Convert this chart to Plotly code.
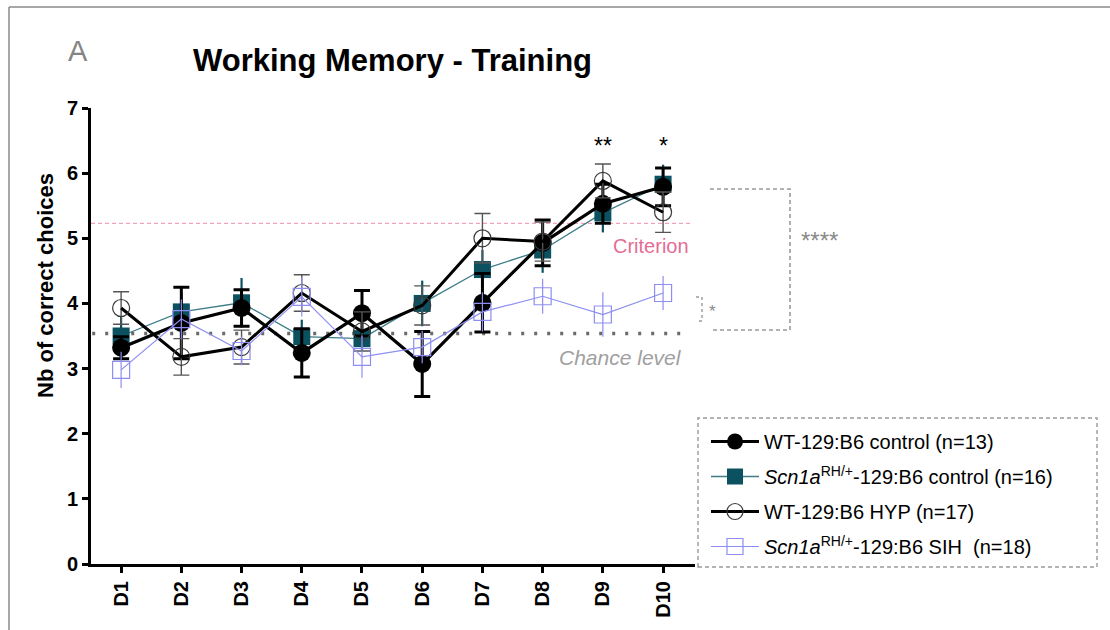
import plotly.graph_objects as go

# Training days
days = ["D1", "D2", "D3", "D4", "D5", "D6", "D7", "D8", "D9", "D10"]
day_idx = list(range(1, 11))

# Mean number of correct choices and SEM for each group
wt_ctrl_mean = [3.32, 3.70, 3.93, 3.24, 3.85, 3.07, 4.01, 4.93, 5.53, 5.79]
wt_ctrl_sem = [0.17, 0.55, 0.28, 0.37, 0.35, 0.50, 0.45, 0.35, 0.30, 0.29]

scn_ctrl_mean = [3.50, 3.87, 4.01, 3.49, 3.46, 4.00, 4.52, 4.82, 5.39, 5.83]
scn_ctrl_sem = [0.30, 0.30, 0.38, 0.26, 0.20, 0.35, 0.30, 0.35, 0.30, 0.30]

wt_hyp_mean = [3.93, 3.18, 3.33, 4.16, 3.57, 3.97, 5.00, 4.95, 5.88, 5.40]
wt_hyp_sem = [0.25, 0.28, 0.26, 0.28, 0.30, 0.30, 0.38, 0.30, 0.26, 0.31]

scn_sih_mean = [2.98, 3.76, 3.27, 4.10, 3.18, 3.33, 3.87, 4.11, 3.83, 4.16]
scn_sih_sem = [0.28, 0.30, 0.22, 0.30, 0.32, 0.25, 0.30, 0.27, 0.34, 0.26]

group_names = [
    "WT-129:B6 control (n=13)",
    "<i>Scn1a</i><sup>RH/+</sup>-129:B6 control (n=16)",
    "WT-129:B6 HYP (n=17)",
    "<i>Scn1a</i><sup>RH/+</sup>-129:B6 SIH&nbsp;&nbsp;(n=18)",
]

criterion_level = 5.23
chance_level = 3.54

sig_days = [9, 10]
sig_labels = ["**", "*"]

# Layout geometry (pixels)
W, H = 1110, 630
L, R, T, B = 91, 695, 108, 564


def px_x(p):
    return (p - L) / (R - L)


def px_y(p):
    return (B - p) / (B - T)


FONT = "Liberation Sans, Arial, sans-serif"

fig = go.Figure()

TEAL = "#0C5160"
LAV = "#8E8EF2"

fig.add_trace(go.Scatter(
    x=day_idx, y=scn_ctrl_mean, name=group_names[1], legendrank=2,
    legendgroup="g2", mode="lines+markers",
    line=dict(color="#3D7C88", width=1.3),
    marker=dict(symbol="square", size=17, color=TEAL),
    error_y=dict(type="data", array=scn_ctrl_sem, color=TEAL, thickness=2.2, width=0),
))
fig.add_trace(go.Scatter(
    x=day_idx, y=wt_ctrl_mean, name=group_names[0], legendrank=1,
    legendgroup="g1", mode="lines+markers",
    line=dict(color="black", width=3.2),
    marker=dict(symbol="circle", size=18, color="black"),
    error_y=dict(type="data", array=wt_ctrl_sem, color="black", thickness=3, width=8),
))
fig.add_trace(go.Scatter(
    x=day_idx, y=wt_hyp_mean, name=group_names[2], legendrank=3,
    legendgroup="g3", mode="lines+markers",
    line=dict(color="black", width=3),
    marker=dict(symbol="circle-open", size=17, color="#3a3a3a", line=dict(width=1.2)),
    error_y=dict(type="data", array=wt_hyp_sem, color="#555555", thickness=1.4, width=8),
))
fig.add_trace(go.Scatter(
    x=day_idx, y=scn_sih_mean, name=group_names[3], legendrank=4,
    legendgroup="g4", mode="lines+markers",
    line=dict(color=LAV, width=1.2),
    marker=dict(symbol="square-open", size=17, color=LAV, line=dict(width=1.2)),
    error_y=dict(type="data", array=scn_sih_sem, color=LAV, thickness=1.2, width=0),
))

shapes = []
# criterion and chance reference lines
shapes.append(dict(type="line", xref="x", yref="y", x0=0.5, x1=10.45,
                   y0=criterion_level, y1=criterion_level,
                   line=dict(color="#F2A2B6", width=1.3, dash="4px,3px"), layer="below"))
shapes.append(dict(type="line", xref="x", yref="y", x0=0.52, x1=10.3,
                   y0=chance_level, y1=chance_level,
                   line=dict(color="#6a6a6a", width=3.5, dash="3px,10px"), layer="below"))

# comparison brackets
BR = dict(color="#9a9a9a", width=1.6, dash="4px,3px")
shapes.append(dict(type="path", xref="paper", yref="paper",
                   path=f"M{px_x(710)},{px_y(189)} L{px_x(790)},{px_y(189)} "
                        f"L{px_x(790)},{px_y(330)} L{px_x(712)},{px_y(330)}",
                   line=BR))
shapes.append(dict(type="path", xref="paper", yref="paper",
                   path=f"M{px_x(696)},{px_y(297)} L{px_x(702)},{px_y(297)} "
                        f"L{px_x(702)},{px_y(321)} L{px_x(696)},{px_y(321)}",
                   line=dict(color="#9a9a9a", width=1.4, dash="3px,3px")))

# legend frame
shapes.append(dict(type="rect", xref="paper", yref="paper",
                   x0=px_x(698), x1=px_x(1097), y0=px_y(567), y1=px_y(418),
                   line=dict(color="#9a9a9a", width=1.4, dash="4px,3px")))

# outer frame (top and left edges)
shapes.append(dict(type="line", xref="paper", yref="paper",
                   x0=px_x(9), x1=px_x(1112), y0=px_y(7), y1=px_y(7),
                   line=dict(color="#8a8a8a", width=1.5)))
shapes.append(dict(type="line", xref="paper", yref="paper",
                   x0=px_x(9), x1=px_x(9), y0=px_y(7), y1=px_y(632),
                   line=dict(color="#8a8a8a", width=1.5)))


def note(text, x, y, size, color, xref="paper", angle=0, **font_extra):
    return dict(text=text, xref=xref, yref="paper", x=x, y=px_y(y),
                xanchor="center", yanchor="middle", showarrow=False, textangle=angle,
                font=dict(family=FONT, size=size, color=color, **font_extra))


annotations = [
    note("Working Memory - Training", px_x(392), 61, 31, "black", weight="bold"),
    note("A", px_x(78), 51, 29, "#858585"),
    note("Nb of correct choices", px_x(45), 286, 22, "black", angle=-90, weight="bold"),
    note("Criterion", 9.8, 246, 20, "#E46C95", xref="x"),
    note("<i>Chance level</i>", 9.29, 357, 21, "#a0a0a0", xref="x"),
    note("****", px_x(819), 241, 24, "#8a8a8a"),
    note("*", px_x(712), 311, 17, "#8a8a8a"),
]
for d, lab in zip(sig_days, sig_labels):
    annotations.append(note(lab, d, 146, 23, "black", xref="x"))

fig.update_layout(
    width=W, height=H,
    margin=dict(l=L, r=W - R, t=T, b=H - B, pad=0),
    paper_bgcolor="white", plot_bgcolor="white",
    shapes=shapes, annotations=annotations,
    showlegend=True,
    legend=dict(x=px_x(706), y=px_y(422), xanchor="left", yanchor="top",
                font=dict(family=FONT, size=20, color="black"),
                bgcolor="rgba(0,0,0,0)", borderwidth=0,
                tracegroupgap=6, itemsizing="trace", itemwidth=48,
                traceorder="grouped"),
    xaxis=dict(range=[0.5, 10.53], tickmode="array", tickvals=day_idx, ticktext=days,
               tickangle=-90, showline=True, linecolor="black", linewidth=3,
               ticks="outside", ticklen=6, tickwidth=3, tickcolor="black",
               showgrid=False, zeroline=False,
               tickfont=dict(family=FONT, size=20, color="black", weight="bold")),
    yaxis=dict(range=[0, 7], tickvals=list(range(0, 8)), showline=True,
               linecolor="black", linewidth=3, ticks="outside", ticklen=6,
               tickwidth=3, tickcolor="black", showgrid=False, zeroline=False,
               tickfont=dict(family=FONT, size=20, color="black", weight="bold")),
)

fig.write_html("out.html")
